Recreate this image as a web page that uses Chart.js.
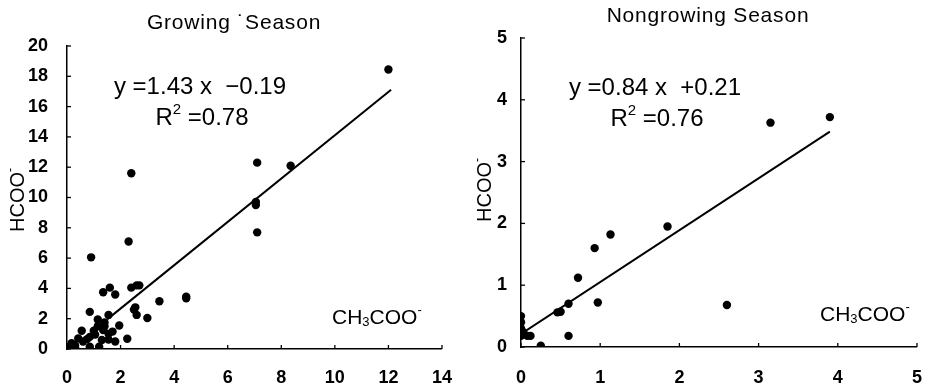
<!DOCTYPE html>
<html>
<head>
<meta charset="utf-8">
<script src="https://cdn.jsdelivr.net/npm/chart.js@4.4.1/dist/chart.umd.min.js"></script>
<style>
  html, body { margin: 0; padding: 0; background: #fff; }
  #wrap { width: 942px; height: 389px; display: flex; }
  canvas { display: block; }
</style>
</head>
<body>
<div id="wrap">
  <canvas id="grow" width="470" height="389"></canvas>
  <canvas id="nongrow" width="472" height="389"></canvas>
</div>
<script>
// growing season: acetate (x) vs formate (y)
const growX = [12.0, 7.1, 8.35, 2.4, 7.05, 7.05, 7.1, 2.3, 0.9, 1.35, 1.6, 1.8, 2.4, 2.6, 2.7,
  3.45, 4.45, 4.45, 2.5, 2.55, 2.6, 3.0, 0.85, 1.55, 1.15, 1.4, 1.95, 1.4, 0.55, 1.0, 1.35,
  1.7, 0.85, 0.42, 1.3, 1.55, 1.8, 2.25, 0.17, 0.6, 0.3, 0.85, 1.2, 0.12, 0.3, 0.0, 0.75,
  1.15, 0.2, 1.05, 1.55];
const growY = [18.45, 12.3, 12.1, 11.6, 9.7, 9.5, 7.7, 7.1, 6.05, 3.75, 4.05, 3.6, 4.05, 4.2, 4.2,
  3.15, 3.45, 3.35, 2.6, 2.75, 2.25, 2.05, 2.45, 2.25, 1.95, 1.75, 1.55, 1.5, 1.2, 1.2, 1.25,
  1.15, 0.8, 0.7, 0.6, 0.62, 0.5, 0.68, 0.38, 0.5, 0.25, 0.15, 0.15, 0.05, 0.12, 0.12, 0.65,
  1.5, 0.2, 0.95, 1.0];
const growFit = { slope: 1.43, icpt: -0.19, from: 1.5, to: 12.1, r2: '0.78' };
const growTicksX = [0, 2, 4, 6, 8, 10, 12, 14];
const growTicksY = [0, 2, 4, 6, 8, 10, 12, 14, 16, 18, 20];

// nongrowing season
const nongX = [3.9, 3.15, 1.85, 1.13, 0.93, 0.72, 0.6, 0.97, 2.6, 0.46, 0.5, 0.6, 0.25,
  0, 0, 0, 0, 0.03, 0.08, 0.12];
const nongY = [3.72, 3.63, 1.95, 1.82, 1.6, 1.12, 0.7, 0.72, 0.68, 0.56, 0.57, 0.18, 0.02,
  0.5, 0.4, 0.3, 0.18, 0.24, 0.18, 0.18];
const nongFit = { slope: 0.84, icpt: 0.21, from: 0.0, to: 3.9, r2: '0.76' };
const nongTicksX = [0, 1, 2, 3, 4, 5];
const nongTicksY = [0, 1, 2, 3, 4, 5];

const FONT = '"Liberation Sans", Arial, Helvetica, sans-serif';
Chart.defaults.font.family = FONT;
Chart.defaults.color = '#000';

function fmt(v) { return (v < 0 ? '\u2212' : '+') + Math.abs(v).toFixed(2); }

// draw a row of text pieces, some of them sub/superscript
function drawRuns(ctx, runs, x, y, size, align) {
  const big = size + 'px ' + FONT, small = Math.round(size * 0.62) + 'px ' + FONT;
  let total = 0;
  runs.forEach(r => { ctx.font = r.s ? small : big; total += ctx.measureText(r.t).width; });
  let cx = align === 'center' ? x - total / 2 : x;
  ctx.textAlign = 'left';
  ctx.textBaseline = 'middle';
  runs.forEach(r => {
    ctx.font = r.s ? small : big;
    const dy = r.s === 'sub' ? size * 0.22 : r.s === 'sup' ? -size * 0.35 : 0;
    ctx.fillText(r.t, cx, y + dy);
    cx += ctx.measureText(r.t).width;
  });
}

const annotate = {
  id: 'annotate',
  afterDraw(chart, args, o) {
    const ctx = chart.ctx, xs = chart.scales.x, ys = chart.scales.y;
    ctx.save();
    ctx.fillStyle = '#000';
    ctx.strokeStyle = '#000';
    ctx.lineWidth = 1.3;
    // short inward tick marks
    o.ticksX.forEach(v => {
      const px = xs.getPixelForValue(v);
      ctx.beginPath(); ctx.moveTo(px, ys.bottom); ctx.lineTo(px, ys.bottom - 4); ctx.stroke();
    });
    o.ticksY.forEach(v => {
      const py = ys.getPixelForValue(v);
      ctx.beginPath(); ctx.moveTo(xs.left, py); ctx.lineTo(xs.left + 4, py); ctx.stroke();
    });
    ctx.letterSpacing = '0.8px';
    drawRuns(ctx, [{ t: o.title }], o.titlePos[0], o.titlePos[1], 21, 'center');
    ctx.letterSpacing = '0px';
    const f = o.fit;
    drawRuns(ctx, [{ t: 'y =' + f.slope.toFixed(2) + ' x  ' + fmt(f.icpt) }], o.eqPos[0], o.eqPos[1], 24, 'center');
    drawRuns(ctx, [{ t: 'R' }, { t: '2', s: 'sup' }, { t: ' =' + f.r2 }], o.eqPos[0] + 2, o.eqPos[1] + 31, 24, 'center');
    drawRuns(ctx, [{ t: 'CH' }, { t: '3', s: 'sub' }, { t: 'COO' }, { t: '-', s: 'sup' }], o.xLab[0], o.xLab[1], 21, 'left');
    ctx.translate(o.yLab[0], o.yLab[1]);
    ctx.rotate(-Math.PI / 2);
    drawRuns(ctx, [{ t: 'HCOO' }, { t: '-', s: 'sup' }], 0, 0, 20, 'center');
    ctx.restore();
  }
};

function makeChart(id, xs, ys, fit, tx, ty, box, text) {
  const pts = xs.map((x, i) => ({ x: x, y: ys[i] }));
  const line = [fit.from, fit.to].map(x => ({ x: x, y: fit.slope * x + fit.icpt }));
  const axisFont = { size: 18, weight: 'bold' };
  return new Chart(document.getElementById(id), {
    type: 'scatter',
    data: {
      datasets: [
        { data: pts, pointRadius: 4.2, pointBackgroundColor: '#000', pointBorderWidth: 0 },
        { type: 'line', data: line, showLine: true, borderColor: '#000', borderWidth: 2, pointRadius: 0 }
      ]
    },
    options: {
      responsive: false,
      animation: false,
      layout: { padding: { top: box.top, right: box.right, left: 0, bottom: 0 } },
      plugins: { legend: { display: false }, tooltip: { enabled: false }, annotate: text },
      scales: {
        x: {
          type: 'linear', min: tx[0], max: tx[tx.length - 1],
          afterBuildTicks: s => { s.ticks = tx.map(v => ({ value: v })); },
          afterFit: s => { s.height = box.xh; },
          grid: { display: true, drawOnChartArea: false, drawTicks: false },
          border: { display: true, color: '#000', width: 1.5 },
          ticks: { font: axisFont, color: '#000', padding: box.xpad }
        },
        y: {
          type: 'linear', min: ty[0], max: ty[ty.length - 1],
          afterBuildTicks: s => { s.ticks = ty.map(v => ({ value: v })); },
          afterFit: s => { s.width = box.yw; },
          grid: { display: true, drawOnChartArea: false, drawTicks: false },
          border: { display: true, color: '#000', width: 1.5 },
          ticks: { font: axisFont, color: '#000', padding: box.ypad }
        }
      }
    },
    plugins: [annotate]
  });
}

makeChart('grow', growX, growY, growFit, growTicksX, growTicksY,
  { top: 46, right: 26, xh: 40, yw: 67, xpad: 18, ypad: 19 },
  { title: 'Growing \u02d9Season', titlePos: [234, 23], fit: growFit, eqPos: [200, 87],
    xLab: [332, 318], yLab: [18, 200], ticksX: growTicksX, ticksY: growTicksY });

makeChart('nongrow', nongX, nongY, nongFit, nongTicksX, nongTicksY,
  { top: 38, right: 9, xh: 42, yw: 51, xpad: 20, ypad: 14 },
  { title: 'Nongrowing Season', titlePos: [238, 16], fit: nongFit, eqPos: [185, 88],
    xLab: [350, 315], yLab: [15, 190], ticksX: nongTicksX, ticksY: nongTicksY });
</script>
</body>
</html>
